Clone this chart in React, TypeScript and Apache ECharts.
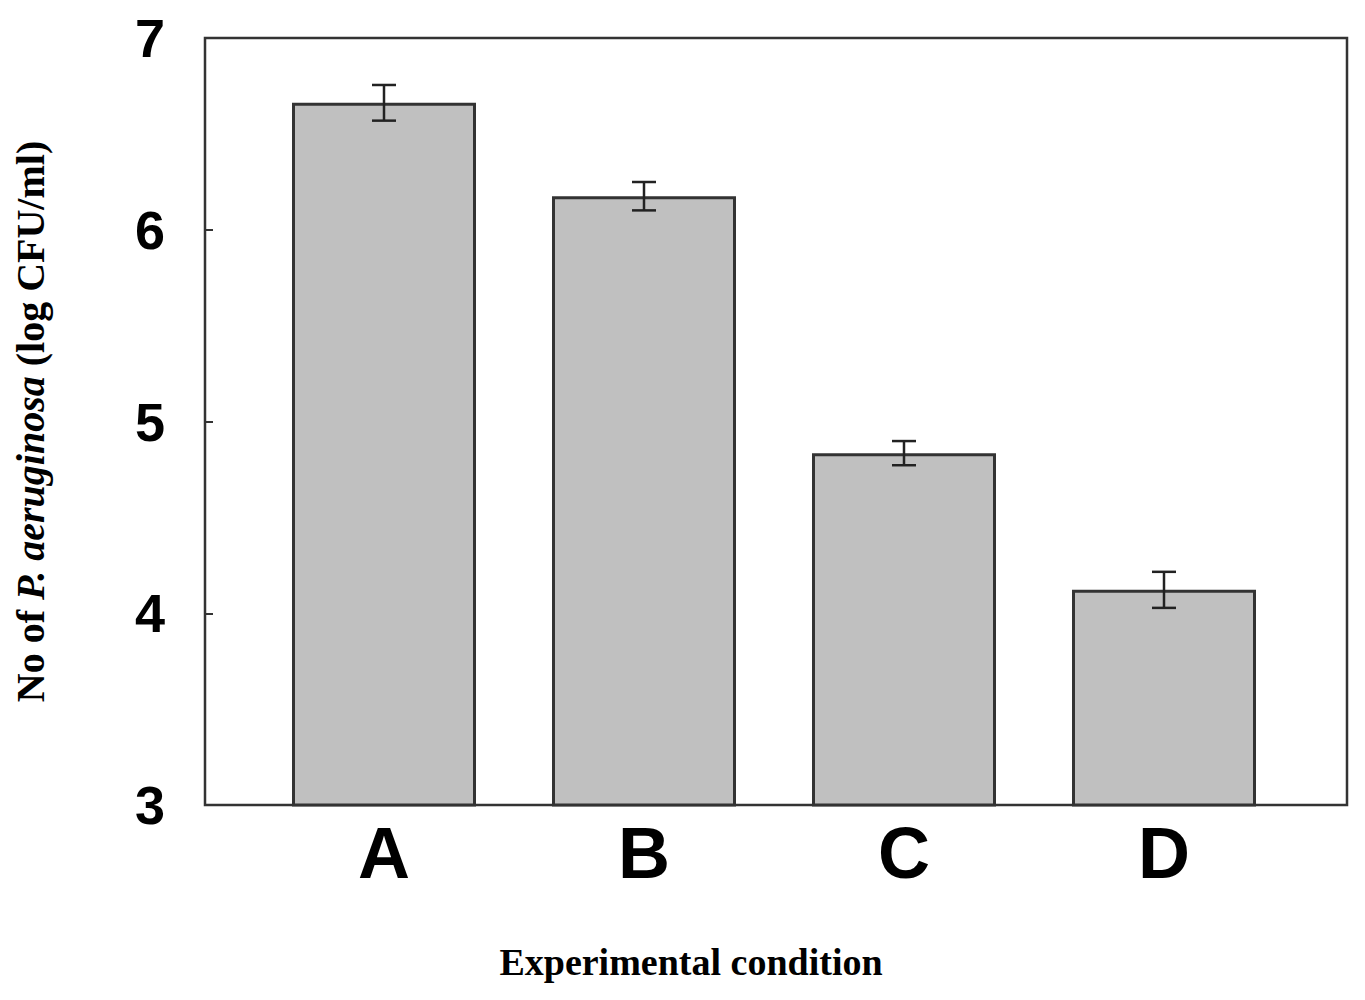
import React, { useEffect, useRef } from "react";
import * as echarts from "echarts";

const categories = ["A", "B", "C", "D"];
const means = [6.662, 6.175, 4.835, 4.122];
const errors = [0.093, 0.074, 0.063, 0.094];
const yMin = 3;
const yMax = 7;
const yInterval = 1;

export default function App() {
  const ref = useRef<HTMLDivElement>(null);
  useEffect(() => {
    if (!ref.current) return;
    const chart = echarts.init(ref.current, null, { renderer: "svg" });
    const errData = categories.map((_, i) => [i, means[i] - errors[i], means[i] + errors[i]]);
    const option = {
      animation: false,
      backgroundColor: "#ffffff",
      title: {
        text: "Experimental condition",
        left: 678,
        top: 930,
        textAlign: "center",
        textStyle: {
          fontFamily: "Liberation Serif",
          fontWeight: "bold",
          fontSize: 38,
          color: "#000000",
        },
      },
      grid: [
        {
          left: 197,
          top: 30,
          width: 1142,
          height: 767,
          show: true,
          borderColor: "#333333",
          borderWidth: 2.5,
          backgroundColor: "transparent",
          outerBoundsMode: "none",
          containLabel: false,
        },
        { left: 246, top: 30, width: 1040, height: 767, outerBoundsMode: "none", containLabel: false },
      ],
      xAxis: [
        {
          gridIndex: 0,
          type: "value",
          min: 0,
          max: 1,
          show: true,
          axisLine: { show: false },
          axisTick: { show: false },
          axisLabel: { show: false },
          splitLine: { show: false },
        },
        {
          gridIndex: 1,
          type: "category",
          data: categories,
          axisLine: { show: false },
          axisTick: { show: false },
          axisLabel: {
            margin: 12,
            fontFamily: "Liberation Sans",
            fontWeight: "bold",
            fontSize: 72,
            color: "#000000",
          },
        },
      ],
      yAxis: [
        {
          gridIndex: 0,
          type: "value",
          min: yMin,
          max: yMax,
          interval: yInterval,
          axisLine: { show: false },
          axisTick: { show: true, inside: true, length: 8, lineStyle: { color: "#333333", width: 2 } },
          splitLine: { show: false },
          axisLabel: {
            margin: 40,
            fontFamily: "Liberation Sans",
            fontWeight: "bold",
            fontSize: 54,
            color: "#000000",
          },
          name: "{n|No of }{i|P. aeruginosa}{n| (log CFU/ml)}",
          nameLocation: "middle",
          nameGap: 155,
          nameTextStyle: {
            rich: {
              n: { fontFamily: "Liberation Serif", fontWeight: "bold", fontSize: 40, color: "#000000" },
              i: { fontFamily: "Liberation Serif", fontWeight: "bold", fontStyle: "italic", fontSize: 40, color: "#000000" },
            },
          },
        },
        {
          gridIndex: 1,
          type: "value",
          min: yMin,
          max: yMax,
          interval: yInterval,
          show: false,
        },
      ],
      series: [
        {
          type: "bar",
          xAxisIndex: 1,
          yAxisIndex: 1,
          data: means,
          barWidth: 184,
          clip: true,
          itemStyle: { color: "#c0c0c0", borderColor: "#333333", borderWidth: 3 },
        },
        {
          type: "custom",
          xAxisIndex: 1,
          yAxisIndex: 1,
          data: errData,
          z: 5,
          renderItem: (params: any, api: any) => {
            const x = api.value(0);
            const lo = api.coord([x, api.value(1)]);
            const hi = api.coord([x, api.value(2)]);
            const hw = 12;
            const style = { stroke: "#222222", lineWidth: 2.5 };
            return {
              type: "group",
              children: [
                { type: "line", shape: { x1: lo[0], y1: lo[1], x2: hi[0], y2: hi[1] }, style },
                { type: "line", shape: { x1: lo[0] - hw, y1: lo[1], x2: lo[0] + hw, y2: lo[1] }, style },
                { type: "line", shape: { x1: hi[0] - hw, y1: hi[1], x2: hi[0] + hw, y2: hi[1] }, style },
              ],
            };
          },
        },
      ],
    };
    chart.setOption(option as any);
    return () => chart.dispose();
  }, []);
  return <div ref={ref} style={{ width: 1349, height: 984 }} />;
}
